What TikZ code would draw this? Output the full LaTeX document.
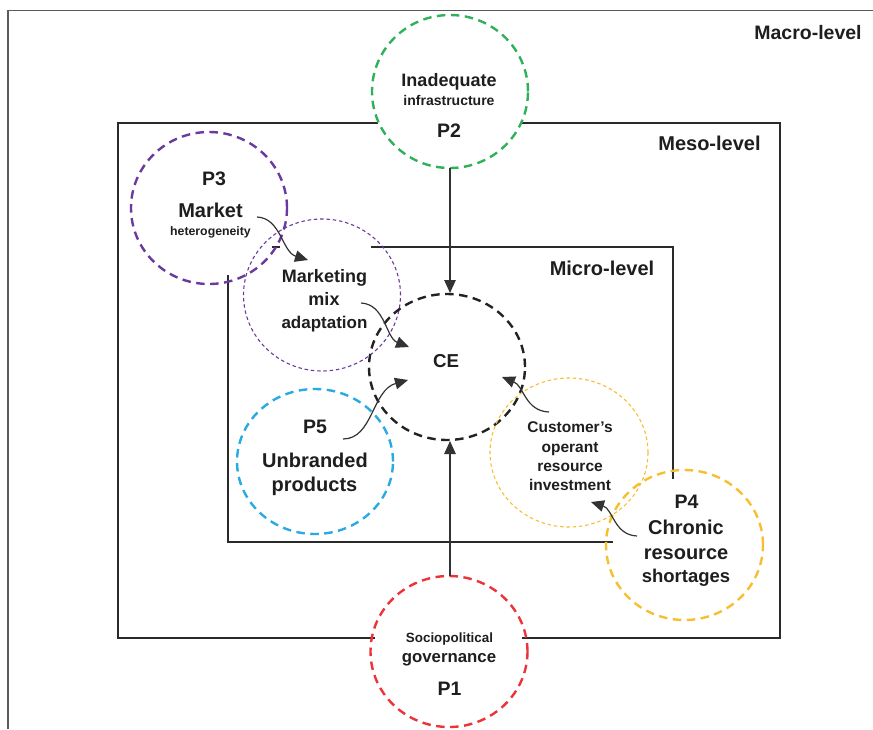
\documentclass[tikz,border=0pt]{standalone}
\usepackage{fontspec}
\setmainfont{Liberation Sans}
\usetikzlibrary{shapes.geometric,arrows.meta}
\definecolor{pgreen}{HTML}{2FB05A}
\definecolor{ppurple}{HTML}{6B3A9E}
\definecolor{pblue}{HTML}{2AAAE0}
\definecolor{pyellow}{HTML}{F7BE32}
\definecolor{pred}{HTML}{EE3338}
\definecolor{pblack}{HTML}{222222}
\definecolor{tc}{HTML}{1E1E1E}
\definecolor{outerline}{HTML}{5A5A5A}
\definecolor{boxline}{HTML}{2A2A2A}
\definecolor{conncol}{HTML}{333333}
\newcommand{\fsz}[1]{\fontsize{#1}{#1}\selectfont}
\tikzset{
  pcirc/.style={ellipse, draw=#1, line width=2.4pt, dash pattern=on 8.5pt off 5.5pt, inner sep=0pt, outer sep=0pt},
  tcirc/.style={ellipse, draw=#1, line width=1.1pt, dash pattern=on 3.5pt off 2.8pt, inner sep=0pt, outer sep=0pt},
  ft/.style={anchor=base, inner sep=0pt, text=tc, font=\bfseries\fsz{#1}},
  boxl/.style={draw=boxline, line width=1.3pt},
  conn/.style={draw=conncol, line width=1.2pt, -{Triangle[length=13pt,width=11.5pt]}},
}
\begin{document}
\begin{tikzpicture}[x=1pt,y=-1pt]
\useasboundingbox (0,0) rectangle (873,729);

% ---- level boxes
\draw[draw=outerline, line width=1.9pt] (8,729) -- (8,10.5) -- (873,10.5);
% meso
\draw[boxl] (378,123) -- (118,123) -- (118,638) -- (375,638);
\draw[boxl] (521,123) -- (780,123) -- (780,638) -- (522,638);
% micro
\draw[boxl] (272,247) -- (280,247);
\draw[boxl] (371,247) -- (673,247) -- (673,479);
\draw[boxl] (228,275) -- (228,542) -- (613,542);

% ---- circles
\node[pcirc=pgreen, minimum width=156pt, minimum height=153pt] (P2) at (450,91.5) {};
\node[pcirc=ppurple, minimum width=156pt, minimum height=152pt] (P3) at (209,208) {};
\node[tcirc=ppurple, minimum width=157pt, minimum height=152pt] (MM) at (322,295) {};
\node[pcirc=pblack, minimum width=156pt, minimum height=146pt] (CE) at (447,367) {};
\node[pcirc=pblue, minimum width=156pt, minimum height=145pt] (P5) at (315,461.5) {};
\node[tcirc=pyellow, minimum width=158pt, minimum height=149pt] (CU) at (569,452.5) {};
\node[pcirc=pyellow, minimum width=157pt, minimum height=150pt] (P4) at (684.5,545) {};
\node[pcirc=pred, minimum width=157pt, minimum height=151pt] (P1) at (449,651.5) {};

% ---- straight connectors
\coordinate (p2a) at (450,168);
\coordinate (cea) at (450,293);
\coordinate (p1a) at (450,576);
\coordinate (ceb) at (450,441);
\draw[conn] (p2a) -- (cea);
\draw[conn] (p1a) -- (ceb);

% ---- curved connectors
\coordinate (s1) at (257,217);
\coordinate (e1) at (308,260);
\draw[conn] (s1) .. controls (281,218) and (282,252) .. (e1);
\coordinate (s2) at (361,303);
\coordinate (e2) at (409,347);
\draw[conn] (s2) .. controls (385,304) and (386,338) .. (e2);
\coordinate (s3) at (343,439);
\coordinate (e3) at (408,380);
\draw[conn] (s3) .. controls (373,439) and (372,390) .. (e3);
\coordinate (s4) at (549,412);
\coordinate (e4) at (502,377);
\draw[conn] (s4) .. controls (525,411) and (524,386) .. (e4);
\coordinate (s5) at (637,536);
\coordinate (e5) at (591,502);
\draw[conn] (s5) .. controls (614,535) and (613,509) .. (e5);

% ---- level labels
\node[ft=19.5] (lmac) at (808,39) {Macro-level};
\node[ft=20] (lmes) at (709.5,150) {Meso-level};
\node[ft=20] (lmic) at (602,275) {Micro-level};

% ---- P2
\node[ft=18] (t2a) at (449,86) {Inadequate};
\node[ft=14] (t2b) at (449,105) {infrastructure};
\node[ft=19.5] (t2c) at (449,137) {P2};
% ---- P3
\node[ft=19.5] (t3a) at (214,185) {P3};
\node[ft=20] (t3b) at (210.5,217) {Market};
\node[ft=12.3] (t3c) at (210.5,235) {heterogeneity};
% ---- marketing mix
\node[ft=18] (tma) at (324.5,282) {Marketing};
\node[ft=18] (tmb) at (324,305) {mix};
\node[ft=17] (tmc) at (324.5,328) {adaptation};
% ---- CE
\node[ft=18.7] (tce) at (446,367) {CE};
% ---- P5
\node[ft=19.5] (t5a) at (315,433) {P5};
\node[ft=20] (t5b) at (315,467) {Unbranded};
\node[ft=20] (t5c) at (314.5,491) {products};
% ---- customer's
\node[ft=15.5] (tca) at (570,432) {Customer’s};
\node[ft=15.5] (tcb) at (570,452) {operant};
\node[ft=15.5] (tcc) at (570,471) {resource};
\node[ft=15.5] (tcd) at (570,490) {investment};
% ---- P4
\node[ft=19.5] (t4a) at (686.5,508) {P4};
\node[ft=20] (t4b) at (686,534) {Chronic};
\node[ft=20] (t4c) at (686,559) {resource};
\node[ft=18.5] (t4d) at (686,582) {shortages};
% ---- P1
\node[ft=13.4] (t1a) at (449.5,642) {Sociopolitical};
\node[ft=16.8] (t1b) at (449,662) {governance};
\node[ft=19.5] (t1c) at (449.5,695) {P1};
\end{tikzpicture}
\end{document}
